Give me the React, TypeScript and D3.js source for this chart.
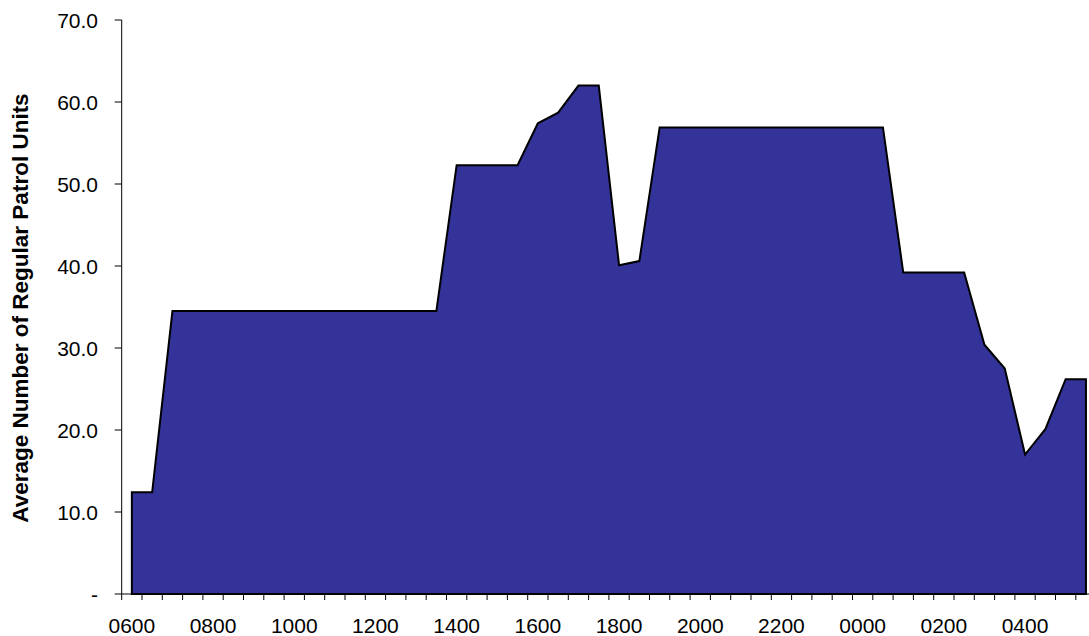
import React from "react";
import * as d3 from "d3";

const categories: string[] = [
  "0600", "0630", "0700", "0730", "0800", "0830", "0900", "0930",
  "1000", "1030", "1100", "1130", "1200", "1230", "1300", "1330",
  "1400", "1430", "1500", "1530", "1600", "1630", "1700", "1730",
  "1800", "1830", "1900", "1930", "2000", "2030", "2100", "2130",
  "2200", "2230", "2300", "2330", "0000", "0030", "0100", "0130",
  "0200", "0230", "0300", "0330", "0400", "0430", "0500", "0530",
];

const units: number[] = [
  12.4, 12.4, 34.5, 34.5, 34.5, 34.5, 34.5, 34.5,
  34.5, 34.5, 34.5, 34.5, 34.5, 34.5, 34.5, 34.5,
  52.3, 52.3, 52.3, 52.3, 57.4, 58.7, 62.0, 62.0,
  40.1, 40.6, 56.9, 56.9, 56.9, 56.9, 56.9, 56.9,
  56.9, 56.9, 56.9, 56.9, 56.9, 56.9, 39.2, 39.2,
  39.2, 39.2, 30.4, 27.5, 17.0, 20.1, 26.2, 26.2,
];

const xTickLabels: string[] = [
  "0600", "0800", "1000", "1200", "1400", "1600",
  "1800", "2000", "2200", "0000", "0200", "0400",
];

const yTicks: number[] = [0, 10, 20, 30, 40, 50, 60, 70];
const yTickLabels: string[] = ["-", "10.0", "20.0", "30.0", "40.0", "50.0", "60.0", "70.0"];

const yTitle = "Average Number of Regular Patrol Units";

const W = 1089;
const H = 636;
const left = 121.7;
const step = 20.3;
const top = 20;
const bottom = 594;
const font = "'Liberation Sans', Arial, sans-serif";

export default function App() {
  const x = d3
    .scaleBand<string>()
    .domain(categories.map((c, i) => String(i)))
    .range([left, left + step * categories.length])
    .padding(0);
  const y = d3.scaleLinear().domain([0, 70]).range([bottom, top]);
  const cx = (i: number) => (x(String(i)) as number) + x.bandwidth() / 2;

  const area = d3
    .area<number>()
    .x((_, i) => cx(i))
    .y0(y(0))
    .y1((d) => y(d));
  const path = (area(units) as string) + "Z";

  const tickXs = d3.range(categories.length + 1).map((i) => left + i * x.step());

  return (
    <svg
      width={W}
      height={H}
      style={{ position: "absolute", left: 0, top: 0, background: "#fff" }}
      fontFamily={font}
    >
      <path d={path} fill="#333399" stroke="#000" strokeWidth={2} strokeLinejoin="miter" />
      {/* y axis */}
      <line x1={left} x2={left} y1={top} y2={bottom} stroke="#000" strokeWidth={1} />
      {yTicks.map((t, i) => (
        <g key={"y" + t}>
          <line x1={left - 7} x2={left} y1={y(t)} y2={y(t)} stroke="#000" strokeWidth={1} />
          <text
            x={98}
            y={y(t)}
            textAnchor="end"
            dominantBaseline="central"
            fontSize={21}
            fill="#000"
          >
            {yTickLabels[i]}
          </text>
        </g>
      ))}
      {/* x axis */}
      <line x1={left} x2={W} y1={bottom} y2={bottom} stroke="#000" strokeWidth={1} />
      {tickXs.map((tx, i) => (
        <line key={"xt" + i} x1={tx} x2={tx} y1={bottom} y2={bottom + 6} stroke="#000" strokeWidth={1} />
      ))}
      {categories.map((c, i) =>
        xTickLabels.includes(c) && i % 4 === 0 ? (
          <text key={"xl" + i} x={cx(i)} y={633} textAnchor="middle" fontSize={21} fill="#000">
            {c}
          </text>
        ) : null
      )}
      <text
        transform={`translate(28, 308) rotate(-90)`}
        textAnchor="middle"
        fontSize={22.5}
        fontWeight="bold"
        fill="#000"
      >
        {yTitle}
      </text>
    </svg>
  );
}
